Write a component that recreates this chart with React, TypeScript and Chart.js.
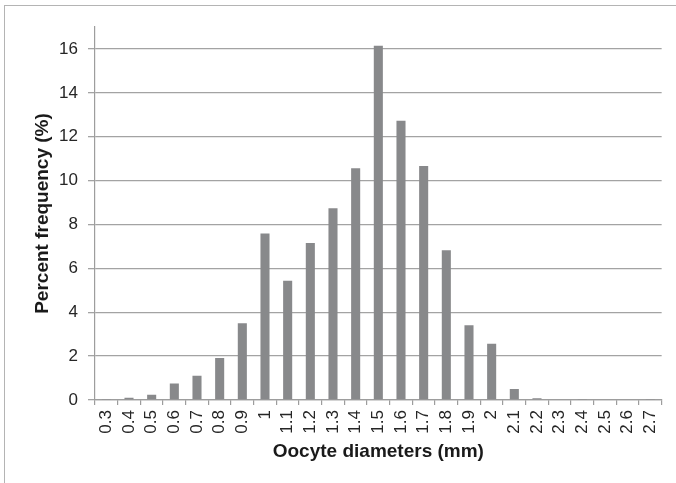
import React, { useEffect, useRef } from "react";
import { Chart, registerables } from "chart.js";

Chart.register(...registerables);

const categories = [
  "0.3", "0.4", "0.5", "0.6", "0.7", "0.8", "0.9", "1", "1.1", "1.2", "1.3", "1.4", "1.5",
  "1.6", "1.7", "1.8", "1.9", "2", "2.1", "2.2", "2.3", "2.4", "2.5", "2.6", "2.7",
];
const percentFrequency = [
  0.02, 0.1, 0.24, 0.75, 1.1, 1.91, 3.5, 7.59, 5.43, 7.15, 8.74, 10.56, 16.15,
  12.73, 10.67, 6.83, 3.41, 2.56, 0.5, 0.08, 0, 0.02, 0, 0, 0.02,
];
const yTicks = [0, 2, 4, 6, 8, 10, 12, 14, 16];
const yMax = 17;
const xTitle = "Oocyte diameters (mm)";
const yTitle = "Percent frequency (%)";

const FONT = "'Liberation Sans', Arial, Helvetica, sans-serif";

export default function App() {
  const canvasRef = useRef<HTMLCanvasElement | null>(null);

  useEffect(() => {
    const canvas = canvasRef.current;
    if (!canvas) return;
    const chart = new Chart(canvas, {
      type: "bar",
      data: {
        labels: categories,
        datasets: [
          {
            data: percentFrequency,
            backgroundColor: "#88898b",
            borderWidth: 0,
            categoryPercentage: 1,
            barPercentage: 0.4,
          },
        ],
      },
      options: {
        animation: false,
        responsive: false,
        maintainAspectRatio: false,
        layout: { padding: { top: 27, right: 14, bottom: 13, left: 0 } },
        plugins: {
          legend: { display: false },
          tooltip: { enabled: false },
        },
        scales: {
          x: {
            grid: {
              offset: true,
              drawOnChartArea: false,
              drawTicks: true,
              tickLength: 5,
              color: "#9d9d9d",
              lineWidth: 1.2,
            },
            border: { display: true, color: "#9d9d9d", width: 1.2 },
            ticks: {
              autoSkip: false,
              minRotation: 90,
              maxRotation: 90,
              padding: 5,
              color: "#262626",
              font: { family: FONT, size: 17 },
            },
            title: {
              display: true,
              text: xTitle,
              color: "#1a1a1a",
              font: { family: FONT, size: 19, weight: "bold" },
              padding: { top: 0, bottom: 7 },
            },
            afterFit: (scale: any) => {
              scale.height = 70;
            },
          },
          y: {
            min: 0,
            max: yMax,
            afterBuildTicks: (scale: any) => {
              scale.ticks = yTicks.map((v) => ({ value: v }));
            },
            grid: {
              drawTicks: true,
              tickLength: 7,
              color: "#a3a3a3",
              lineWidth: 1.3,
            },
            border: { display: true, color: "#9d9d9d", width: 1.2 },
            ticks: {
              padding: 10,
              color: "#262626",
              font: { family: FONT, size: 17 },
            },
            title: {
              display: true,
              text: yTitle,
              color: "#1a1a1a",
              font: { family: FONT, size: 19, weight: "bold" },
              padding: { top: 31.6, bottom: 0 },
            },
            afterFit: (scale: any) => {
              scale.width = 95;
            },
          },
        },
      },
    });
    return () => chart.destroy();
  }, []);

  return (
    <div
      style={{
        position: "absolute",
        left: 0,
        top: 0,
        width: 676,
        height: 483,
        background: "#ffffff",
        overflow: "hidden",
      }}
    >
      <div
        style={{
          position: "absolute",
          left: 4,
          top: 5,
          width: 700,
          height: 600,
          borderLeft: "1.5px solid #b4b4b4",
          borderTop: "1.5px solid #b4b4b4",
        }}
      />
      <canvas
        ref={canvasRef}
        width={676}
        height={483}
        style={{ position: "absolute", left: 0, top: 0, width: 676, height: 483 }}
      />
    </div>
  );
}
